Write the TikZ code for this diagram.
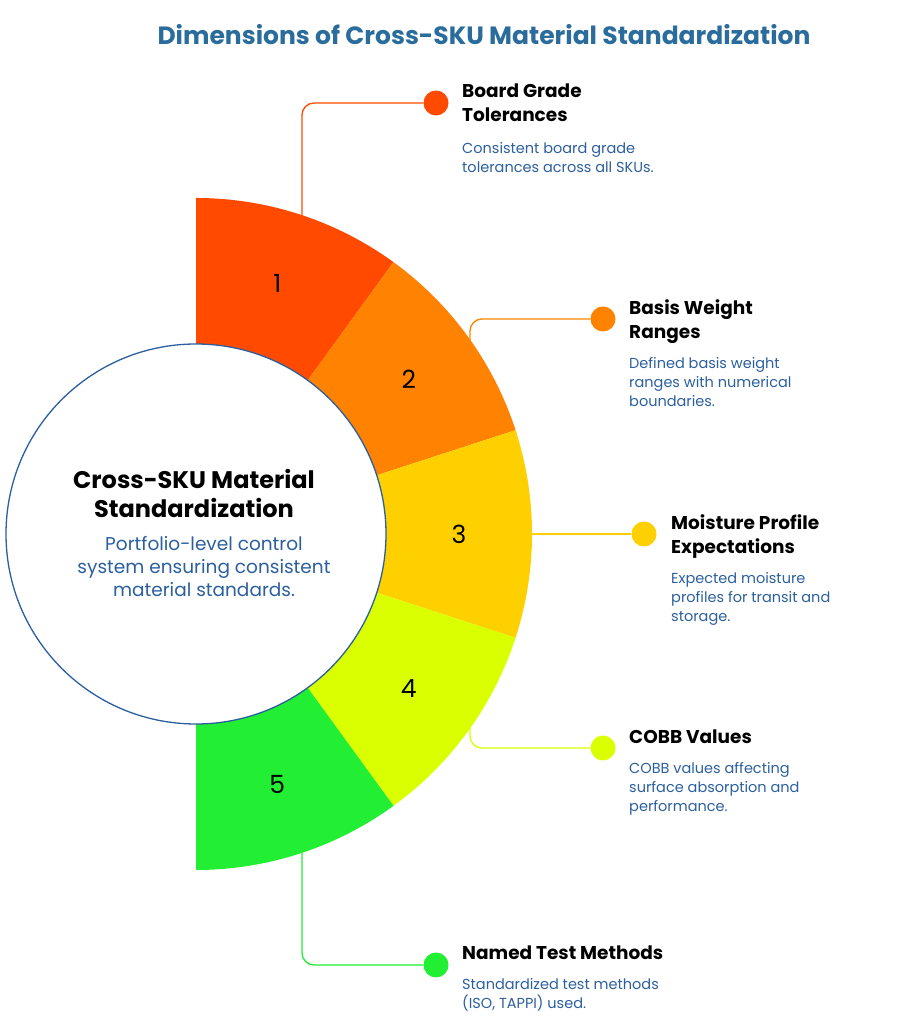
\documentclass[tikz,border=0pt]{standalone}
\usepackage{fontspec}
\setmainfont{Poppins}
\usetikzlibrary{calc}
\begin{document}
\begin{tikzpicture}[x=1pt,y=1pt,
 num/.style={font=\fontsize{25}{25}\selectfont},
 ttl/.style={anchor=north west,align=left,inner sep=0pt,font=\bfseries\fontsize{18.5}{24}\selectfont},
 dsc/.style={anchor=north west,align=left,inner sep=0pt,text=descblue,font=\fontsize{14.5}{19}\selectfont},
 dot/.style={circle,minimum size=25pt,inner sep=0pt},
 con/.style={line width=1.3pt,rounded corners=12pt}]
\definecolor{c1}{HTML}{FF4A00}\definecolor{c2}{HTML}{FF8200}\definecolor{c3}{HTML}{FFD000}
\definecolor{c4}{HTML}{D9FF00}\definecolor{c5}{HTML}{22EE33}
\definecolor{descblue}{HTML}{2B5F9E}\definecolor{titleblue}{HTML}{2A6C9C}
\useasboundingbox (0,0) rectangle (915,1024);
\coordinate (O) at (196,490);
\foreach \a/\b/\c in {90/54/c1,54/18/c2,18/-18/c3,-18/-54/c4,-54/-90/c5}{
 \fill[\c] ($(O)+(\a:336)$) arc[start angle=\a,end angle=\b,radius=336] -- ($(O)+(\b:190)$) arc[start angle=\b,end angle=\a,radius=190] -- cycle;
}
\node[circle,draw=descblue,line width=1.3pt,fill=white,minimum size=380pt,inner sep=0pt] (C) at (O) {};
\node[font=\bfseries\fontsize{24}{29}\selectfont,align=center] (ct) at (194,531) {Cross-SKU Material\\Standardization};
\node[font=\fontsize{18.5}{23}\selectfont,align=center,text=descblue] (cd) at (204,457) {Portfolio-level control\\system ensuring consistent\\material standards.};
\foreach \n/\a in {1/72,2/36,3/0,4/-36,5/-72}{\node[num] (n\n) at ($(O)+(\a:263)$) {\n};}
\node[font=\bfseries\fontsize{25}{25}\selectfont,text=titleblue] (T) at (484,989) {Dimensions of Cross-SKU Material Standardization};
% dots
\node[dot,fill=c1] (d1) at (436,921) {};
\node[dot,fill=c2] (d2) at (603,705) {};
\node[dot,fill=c3] (d3) at (644,490) {};
\node[dot,fill=c4] (d4) at (603,276) {};
\node[dot,fill=c5] (d5) at (436,59) {};
\coordinate (s1) at (302,808);\coordinate (s2) at (470,683);\coordinate (s3) at (532,490);
\coordinate (s4) at (470,343);\coordinate (s5) at (302,171);
\draw[con,c1] (s1) |- (d1);
\draw[con,c2] (s2) |- (d2);
\draw[con,c3] (s3) -- (d3);
\draw[con,c4] (s4) |- (d4);
\draw[con,c5] (s5) |- (d5);
\node[ttl] (t1) at (462,940) {Board Grade\\Tolerances};
\node[dsc] (e1) at (462,882) {Consistent board grade\\tolerances across all SKUs.};
\node[ttl] (t2) at (629,725) {Basis Weight\\Ranges};
\node[dsc] (e2) at (629,667) {Defined basis weight\\ranges with numerical\\boundaries.};
\node[ttl] (t3) at (671,510) {Moisture Profile\\Expectations};
\node[dsc] (e3) at (671,452) {Expected moisture\\profiles for transit and\\storage.};
\node[ttl] (t4) at (629,294) {COBB Values};
\node[dsc] (e4) at (629,262) {COBB values affecting\\surface absorption and\\performance.};
\node[ttl] (t5) at (462,78) {Named Test Methods};
\node[dsc] (e5) at (462,46) {Standardized test methods\\(ISO, TAPPI) used.};
\end{tikzpicture}
\end{document}
